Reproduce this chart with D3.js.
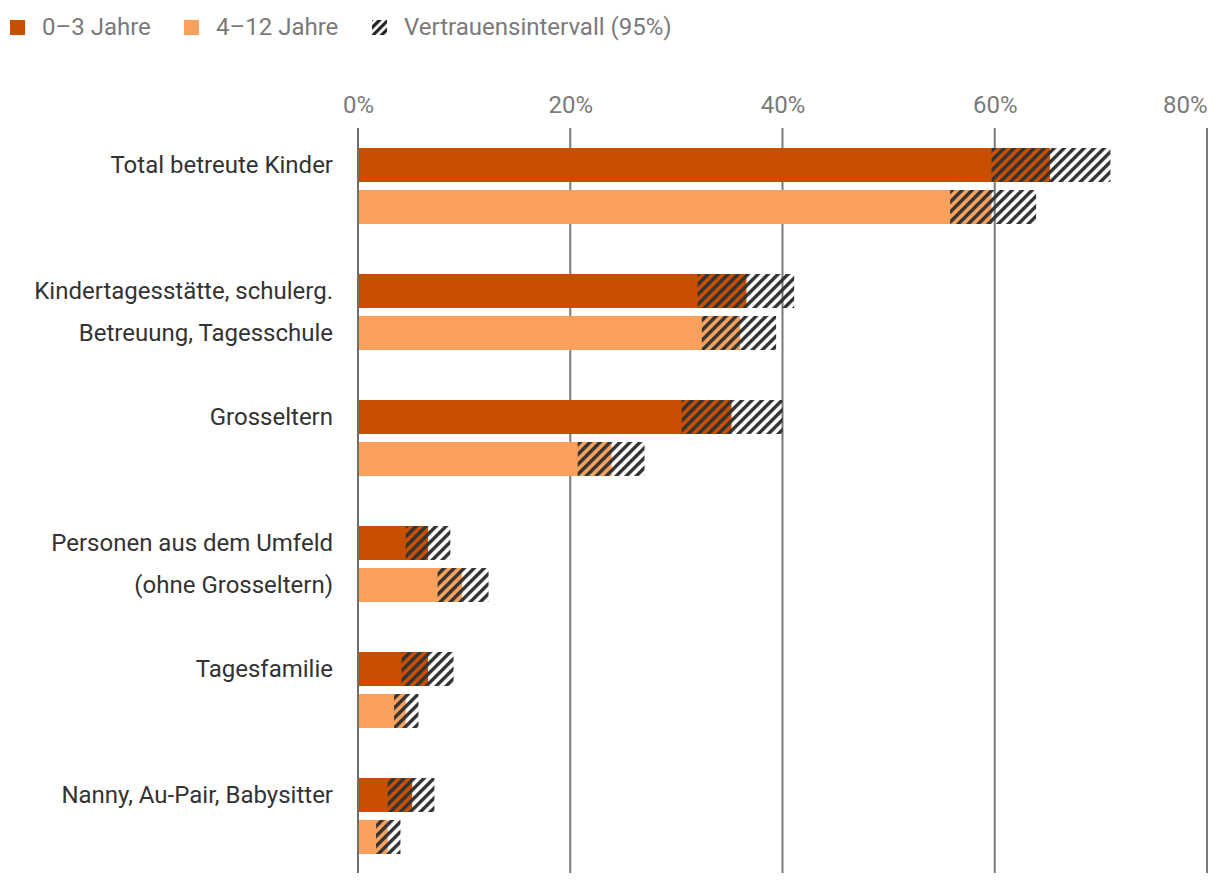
<!DOCTYPE html>
<html>
<head>
<meta charset="utf-8">
<script src="https://cdn.jsdelivr.net/npm/d3@7"></script>
<style>
  html, body { margin: 0; padding: 0; background: #fff; }
  svg { display: block; font-family: Roboto, "Noto Sans", sans-serif; }
</style>
</head>
<body>
<svg id="chart" width="1220" height="886"></svg>
<script>
// ---- data ----
const categories = [
  ["Total betreute Kinder"],
  ["Kindertagesstätte, schulerg.", "Betreuung, Tagesschule"],
  ["Grosseltern"],
  ["Personen aus dem Umfeld", "(ohne Grosseltern)"],
  ["Tagesfamilie"],
  ["Nanny, Au-Pair, Babysitter"]
];
const seriesNames = ["0–3 Jahre", "4–12 Jahre"];
const value03  = [65.2, 36.6, 35.2, 6.6, 6.6, 5.1];
const low03    = [59.7, 32.0, 30.5, 4.5, 4.1, 2.8];
const high03   = [70.9, 41.1, 40.0, 8.7, 9.0, 7.2];
const value412 = [59.7, 36.0, 23.9, 9.8, 4.5, 2.8];
const low412   = [55.8, 32.4, 20.7, 7.5, 3.4, 1.7];
const high412  = [63.9, 39.4, 27.0, 12.3, 5.7, 4.0];
const tickValues = [0, 20, 40, 60, 80];
const ciLabel = "Vertrauensintervall (95%)";

const colors = ["#c94f00", "#f9a05c"];
const FS = 24;

// ---- build rows ----
const rows = [];
categories.forEach((c, i) => {
  rows.push({ cat: i, s: 0, v: value03[i], lo: low03[i], hi: high03[i] });
  rows.push({ cat: i, s: 1, v: value412[i], lo: low412[i], hi: high412[i] });
});

const svg = d3.select("#chart");
const defs = svg.append("defs");
const pat = defs.append("pattern")
  .attr("id", "hatch")
  .attr("patternUnits", "userSpaceOnUse")
  .attr("width", 7.07).attr("height", 20)
  .attr("patternTransform", "rotate(45)");
pat.append("rect").attr("x", 0).attr("y", 0).attr("width", 3.4).attr("height", 20).attr("fill", "#333");

const x = d3.scaleLinear().domain([0, 80]).range([358, 1207]);
const y = d3.scaleBand().domain(d3.range(categories.length)).range([148, 854]).paddingInner(50 / 126).paddingOuter(0);
const yInner = d3.scaleBand().domain([0, 1]).range([0, y.bandwidth()]).paddingInner(8 / 42).paddingOuter(0);

// grid lines
const gridTop = 128, gridBottom = 873;
svg.append("g").selectAll("line")
  .data(tickValues.filter(t => t !== 0))
  .join("line")
  .attr("x1", d => x(d)).attr("x2", d => x(d))
  .attr("y1", gridTop).attr("y2", gridBottom)
  .attr("stroke", "#7a7a7a").attr("stroke-width", 2);

// tick labels via axis
const axis = d3.axisTop(x).tickValues(tickValues).tickFormat(d => d + "%").tickSize(0).tickPadding(0);
const axG = svg.append("g").attr("transform", "translate(0,113)").call(axis);
axG.select(".domain").remove();
axG.selectAll("text")
  .attr("font-size", FS).attr("fill", "#7a7a7a")
  .attr("font-family", "Roboto, sans-serif").attr("dy", 0)
  .attr("text-anchor", (d, i, n) => i === n.length - 1 ? "end" : "middle");

// bars
const barG = svg.append("g");
const by = d => y(d.cat) + yInner(d.s);
barG.selectAll("rect.solid").data(rows).join("rect")
  .attr("class", "solid")
  .attr("x", x(0)).attr("y", by)
  .attr("width", d => x(d.v) - x(0))
  .attr("height", yInner.bandwidth())
  .attr("fill", d => colors[d.s]);
barG.selectAll("rect.ci").data(rows).join("rect")
  .attr("class", "ci")
  .attr("x", d => x(d.lo)).attr("y", by)
  .attr("width", d => x(d.hi) - x(d.lo))
  .attr("height", yInner.bandwidth())
  .attr("fill", "url(#hatch)");

// zero line
svg.append("line")
  .attr("x1", x(0)).attr("x2", x(0))
  .attr("y1", gridTop).attr("y2", gridBottom)
  .attr("stroke", "#6e6e6e").attr("stroke-width", 2);

// category labels
const labG = svg.append("g");
categories.forEach((lines, i) => {
  lines.forEach((ln, j) => {
    labG.append("text")
      .attr("x", 333)
      .attr("y", y(i) + yInner(j) + yInner.bandwidth() / 2)
      .attr("dy", "0.35em")
      .attr("text-anchor", "end")
      .attr("font-size", FS)
      .attr("fill", "#333")
      .text(ln);
  });
});

// legend
const leg = svg.append("g");
const pl = defs.append("pattern")
  .attr("id", "hatchLeg")
  .attr("patternUnits", "userSpaceOnUse")
  .attr("width", 6).attr("height", 20)
  .attr("patternTransform", "translate(372,0) rotate(45)");
pl.append("rect").attr("x", 0).attr("y", 0).attr("width", 3.2).attr("height", 20).attr("fill", "#222");
const legItems = [
  { x: 10, label: seriesNames[0], fill: colors[0] },
  { x: 184, label: seriesNames[1], fill: colors[1] },
  { x: 372, label: ciLabel, fill: "url(#hatchLeg)" }
];
legItems.forEach(it => {
  leg.append("rect").attr("x", it.x).attr("y", 20).attr("width", 15).attr("height", 15).attr("fill", it.fill);
  leg.append("text").attr("x", it.x + 32).attr("y", 35)
    .attr("font-size", FS).attr("fill", "#7a7a7a").text(it.label);
});
</script>
</body>
</html>
